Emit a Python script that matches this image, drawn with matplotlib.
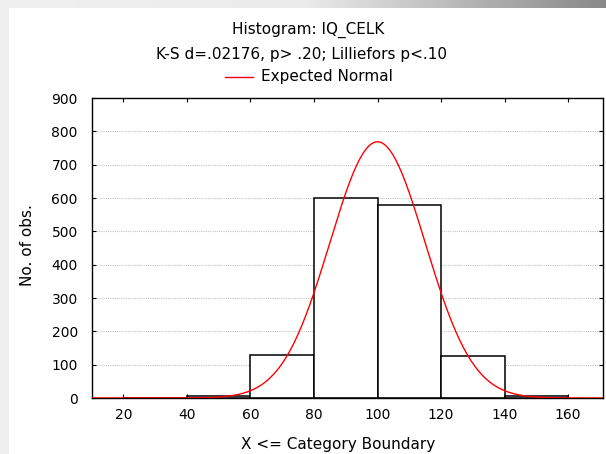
import matplotlib.pyplot as plt
import numpy as np
from matplotlib.patches import Rectangle
from matplotlib.colors import LinearSegmentedColormap

plt.rcParams['font.family'] = ['DejaVu Sans']

# histogram bins (upper boundaries) and counts
bin_edges = [20, 40, 60, 80, 100, 120, 140, 160]
counts = [0, 5, 130, 600, 580, 125, 5]

# expected normal parameters
mean_iq = 100
sd_iq = 15
n_obs = sum(counts)
bin_w = 20

yticks = [0, 100, 200, 300, 400, 500, 600, 700, 800, 900]
xticks = [20, 40, 60, 80, 100, 120, 140, 160]

W, H = 606, 454
fig = plt.figure(figsize=(W / 100, H / 100), dpi=100)

# screenshot frame: grey gradient on top, light strip on the left
grad = np.linspace(0, 1, 256).reshape(1, -1)
bg = fig.add_axes([0, 1 - 8 / H, 1, 8 / H])
bg.imshow(grad, aspect='auto', extent=[0, 1, 0, 1],
          cmap=LinearSegmentedColormap.from_list('g', ['#f0f0f0', '#ececec', '#888888']))
bg.axis('off')
fig.patches.append(Rectangle((0, 0), 9 / W, 1 - 8 / H, transform=fig.transFigure,
                             facecolor='#f0f0f0', edgecolor='none', zorder=-1))

ax = fig.add_axes([91.7 / W, 1 - 398 / H, (603 - 91.7) / W, 300 / H])

lefts = bin_edges[:-1]
ax.bar(lefts, counts, width=bin_w, align='edge', facecolor='white',
       edgecolor='black', linewidth=1.1, zorder=2)

xs = np.linspace(10, 171, 400)
ys = n_obs * bin_w / (sd_iq * np.sqrt(2 * np.pi)) * np.exp(-0.5 * ((xs - mean_iq) / sd_iq) ** 2)
ax.plot(xs, ys, color='red', linewidth=1.0, zorder=3)

ax.set_xlim(10, 171)
ax.set_ylim(0, 900)
ax.set_xticks(xticks)
ax.set_yticks(yticks)
for v in yticks[1:-1]:
    ax.axhline(v, color='#c4c4c4', linestyle=(0, (1, 1)), linewidth=0.8, zorder=1)

ax.tick_params(direction='in', length=3, width=0.8, top=True, right=True,
               labelsize=10, colors='black', pad=7)
ax.tick_params(axis='y', pad=10)
for s in ax.spines.values():
    s.set_linewidth(1.0)

fig.text(338 / W, 1 - 445 / H, 'X <= Category Boundary', ha='center', va='center', fontsize=11)
fig.text(28 / W, 1 - 245 / H, 'No. of obs.', ha='center', va='center', rotation=90, fontsize=11)

fig.text(308 / W, 1 - 30 / H, 'Histogram: IQ_CELK', ha='center', va='center', fontsize=11)
fig.text(301 / W, 1 - 55 / H, 'K-S d=.02176, p> .20; Lilliefors p<.10', ha='center', va='center', fontsize=11)
fig.lines.append(plt.Line2D([225 / W, 253 / W], [1 - 77 / H, 1 - 77 / H],
                            transform=fig.transFigure, color='red', linewidth=1.0))
fig.text(261 / W, 1 - 77 / H, 'Expected Normal', ha='left', va='center', fontsize=11)

fig.savefig('out.png', dpi=100)
